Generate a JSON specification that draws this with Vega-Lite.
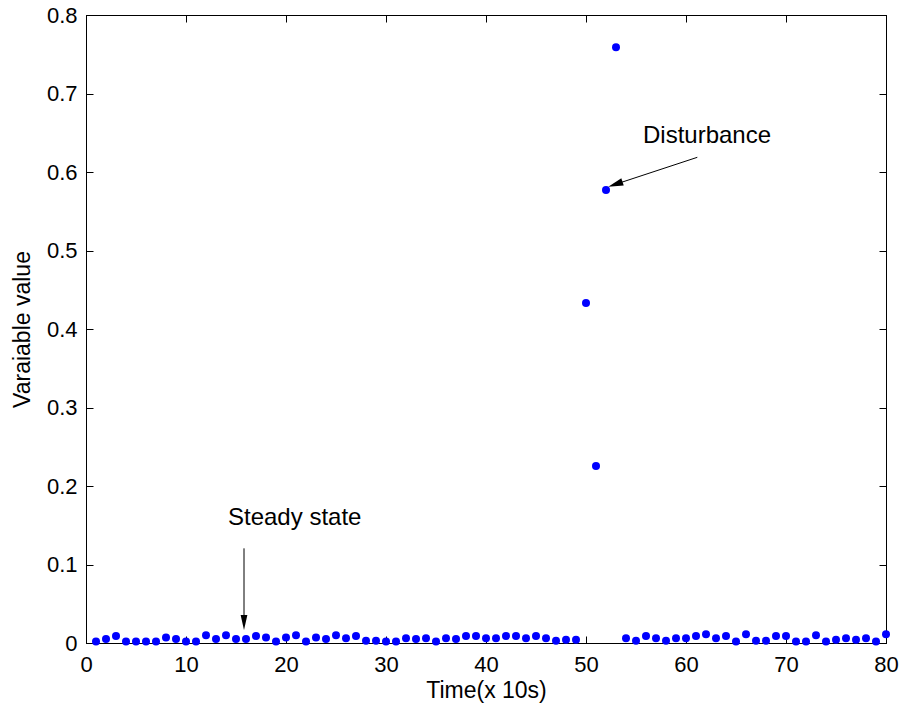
{
  "$schema": "https://vega.github.io/schema/vega-lite/v6.json",
  "width": 800,
  "height": 628,
  "autosize": {"type": "none"},
  "padding": {"left": 86, "top": 15, "right": 13, "bottom": 66},
  "background": "white",
  "config": {
    "font": "Liberation Sans",
    "view": {"stroke": "black", "strokeWidth": 1},
    "axis": {
      "domainColor": "black",
      "tickColor": "black",
      "labelColor": "black",
      "titleColor": "black",
      "grid": false,
      "labelFont": "Liberation Sans",
      "titleFont": "Liberation Sans",
      "labelFontSize": 22,
      "titleFontSize": 23,
      "titleFontWeight": "normal",
      "tickSize": -7
    }
  },
  "datasets": {
    "series": [
      {"t": 1, "v": 0.002}, {"t": 2, "v": 0.005}, {"t": 3, "v": 0.009}, {"t": 4, "v": 0.002},
      {"t": 5, "v": 0.002}, {"t": 6, "v": 0.002}, {"t": 7, "v": 0.002}, {"t": 8, "v": 0.007},
      {"t": 9, "v": 0.005}, {"t": 10, "v": 0.002}, {"t": 11, "v": 0.002}, {"t": 12, "v": 0.010},
      {"t": 13, "v": 0.005}, {"t": 14, "v": 0.010}, {"t": 15, "v": 0.005}, {"t": 16, "v": 0.005},
      {"t": 17, "v": 0.009}, {"t": 18, "v": 0.007}, {"t": 19, "v": 0.002}, {"t": 20, "v": 0.007},
      {"t": 21, "v": 0.010}, {"t": 22, "v": 0.002}, {"t": 23, "v": 0.007}, {"t": 24, "v": 0.005},
      {"t": 25, "v": 0.010}, {"t": 26, "v": 0.006}, {"t": 27, "v": 0.009}, {"t": 28, "v": 0.003},
      {"t": 29, "v": 0.003}, {"t": 30, "v": 0.002}, {"t": 31, "v": 0.002}, {"t": 32, "v": 0.006},
      {"t": 33, "v": 0.005}, {"t": 34, "v": 0.006}, {"t": 35, "v": 0.002}, {"t": 36, "v": 0.006},
      {"t": 37, "v": 0.005}, {"t": 38, "v": 0.009}, {"t": 39, "v": 0.009}, {"t": 40, "v": 0.006},
      {"t": 41, "v": 0.006}, {"t": 42, "v": 0.009}, {"t": 43, "v": 0.009}, {"t": 44, "v": 0.006},
      {"t": 45, "v": 0.009}, {"t": 46, "v": 0.006}, {"t": 47, "v": 0.003}, {"t": 48, "v": 0.004},
      {"t": 49, "v": 0.004}, {"t": 50, "v": 0.433}, {"t": 51, "v": 0.2255}, {"t": 52, "v": 0.577},
      {"t": 53, "v": 0.759}, {"t": 54, "v": 0.006}, {"t": 55, "v": 0.003}, {"t": 56, "v": 0.009},
      {"t": 57, "v": 0.006}, {"t": 58, "v": 0.003}, {"t": 59, "v": 0.006}, {"t": 60, "v": 0.006},
      {"t": 61, "v": 0.009}, {"t": 62, "v": 0.011}, {"t": 63, "v": 0.006}, {"t": 64, "v": 0.009},
      {"t": 65, "v": 0.002}, {"t": 66, "v": 0.011}, {"t": 67, "v": 0.003}, {"t": 68, "v": 0.003},
      {"t": 69, "v": 0.009}, {"t": 70, "v": 0.009}, {"t": 71, "v": 0.002}, {"t": 72, "v": 0.002},
      {"t": 73, "v": 0.010}, {"t": 74, "v": 0.002}, {"t": 75, "v": 0.004}, {"t": 76, "v": 0.006},
      {"t": 77, "v": 0.004}, {"t": 78, "v": 0.006}, {"t": 79, "v": 0.002}, {"t": 80, "v": 0.011}
    ],
    "arrows": [
      {"name": "Disturbance", "x1": 61.13, "y1": 0.6187, "x2": 52.94, "y2": 0.5843},
      {"name": "Steady state", "x1": 15.8, "y1": 0.1206, "x2": 15.8, "y2": 0.0261}
    ],
    "labels": [
      {"name": "Disturbance", "tx": 55.7, "ty": 0.637},
      {"name": "Steady state", "tx": 14.2, "ty": 0.150}
    ]
  },
  "layer": [
    {
      "data": {"name": "series"},
      "mark": {"type": "circle", "color": "#0000ff", "opacity": 1, "size": 64},
      "encoding": {
        "x": {"field": "t", "type": "quantitative", "scale": {"domain": [0, 80], "nice": false},
          "axis": {"orient": "bottom", "title": "Time(x 10s)", "values": [0,10,20,30,40,50,60,70,80], "labelPadding": 18, "titlePadding": 4, "labelFlush": false}},
        "y": {"field": "v", "type": "quantitative", "scale": {"domain": [0, 0.8], "nice": false},
          "axis": {"orient": "left", "title": "Varaiable value", "values": [0,0.1,0.2,0.3,0.4,0.5,0.6,0.7,0.8], "format": ".1~f", "labelPadding": 16, "titlePadding": 12, "labelFlush": false}}
      }
    },
    {
      "data": {"name": "series"},
      "mark": {"type": "circle", "opacity": 0},
      "encoding": {
        "x": {"field": "t", "type": "quantitative",
          "axis": {"orient": "top", "title": null, "labels": false, "values": [0,10,20,30,40,50,60,70,80]}},
        "y": {"field": "v", "type": "quantitative",
          "axis": {"orient": "right", "title": null, "labels": false, "values": [0,0.1,0.2,0.3,0.4,0.5,0.6,0.7,0.8]}}
      }
    },
    {
      "data": {"name": "arrows"},
      "mark": {"type": "rule", "color": "black", "strokeWidth": 1},
      "encoding": {
        "x": {"field": "x1", "type": "quantitative", "axis": null},
        "y": {"field": "y1", "type": "quantitative", "axis": null},
        "x2": {"field": "x2"},
        "y2": {"field": "y2"}
      }
    },
    {
      "data": {"name": "arrows"},
      "transform": [{"filter": "datum.name == 'Steady state'"}],
      "mark": {"type": "point", "shape": "M0,1L-0.45,-1L0.45,-1Z", "filled": true, "color": "black", "opacity": 1, "size": 225, "strokeWidth": 0},
      "encoding": {
        "x": {"field": "x2", "type": "quantitative", "axis": null},
        "y": {"field": "y2", "type": "quantitative", "axis": null}
      }
    },
    {
      "data": {"name": "arrows"},
      "transform": [{"filter": "datum.name == 'Disturbance'"}],
      "mark": {"type": "point", "shape": "M-0.95,0.314L1.11,0.17L0.79,-0.8Z", "filled": true, "color": "black", "opacity": 1, "size": 225, "strokeWidth": 0},
      "encoding": {
        "x": {"field": "x2", "type": "quantitative", "axis": null},
        "y": {"field": "y2", "type": "quantitative", "axis": null}
      }
    },
    {
      "data": {"name": "labels"},
      "mark": {"type": "text", "align": "left", "baseline": "alphabetic", "font": "Liberation Sans", "fontSize": 24, "color": "black"},
      "encoding": {
        "x": {"field": "tx", "type": "quantitative", "axis": null},
        "y": {"field": "ty", "type": "quantitative", "axis": null},
        "text": {"field": "name"}
      }
    }
  ],
  "resolve": {"axis": {"x": "independent", "y": "independent"}}
}
